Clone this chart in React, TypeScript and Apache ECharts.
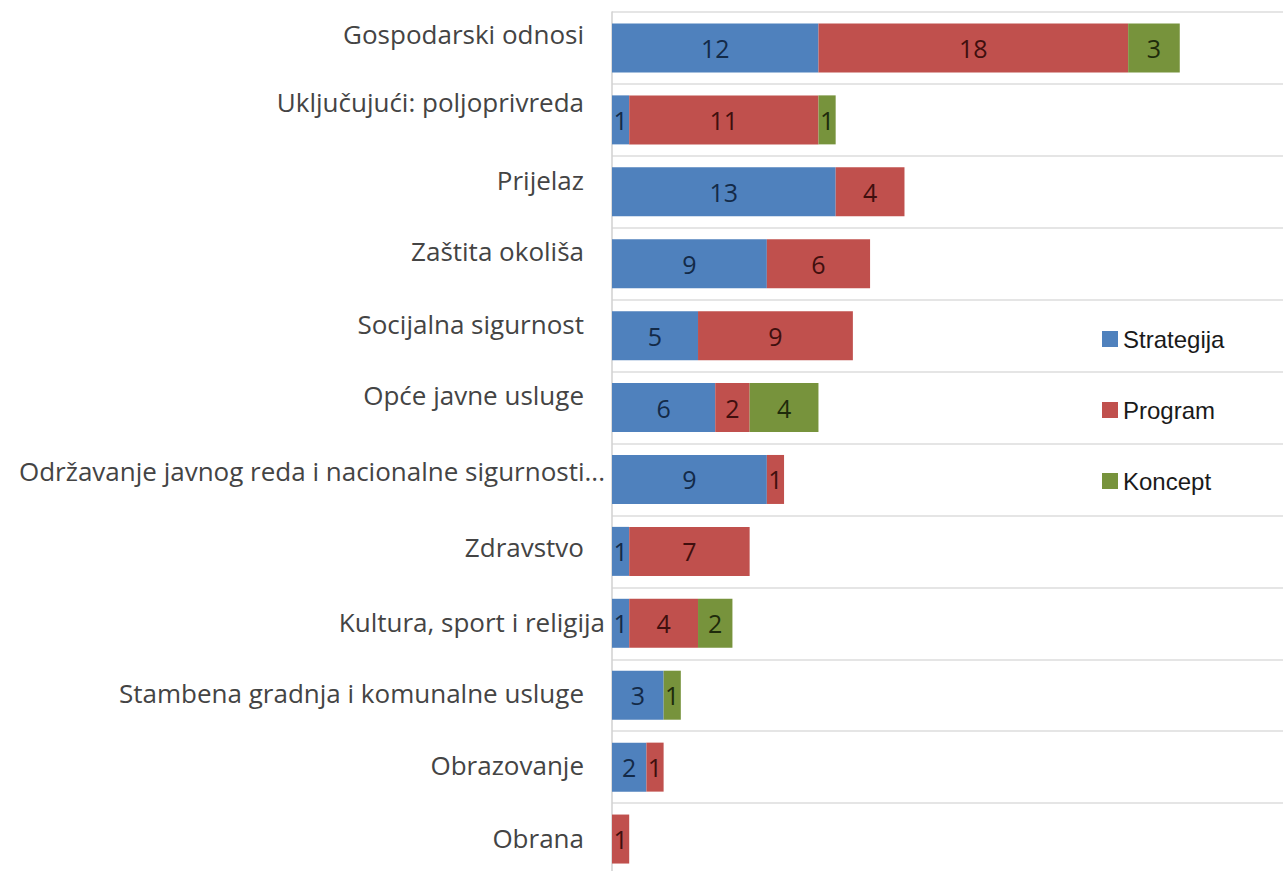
import React, { useEffect, useRef } from "react";
import * as echarts from "echarts";

const categories = [
  "Gospodarski odnosi",
  "Uključujući: poljoprivreda",
  "Prijelaz",
  "Zaštita okoliša",
  "Socijalna sigurnost",
  "Opće javne usluge",
  "Održavanje javnog reda i nacionalne sigurnosti...",
  "Zdravstvo",
  "Kultura, sport i religija",
  "Stambena gradnja i komunalne usluge",
  "Obrazovanje",
  "Obrana",
];

const strategija = [12, 1, 13, 9, 5, 6, 9, 1, 1, 3, 2, 0];
const program = [18, 11, 4, 6, 9, 2, 1, 7, 4, 0, 1, 1];
const koncept = [3, 1, 0, 0, 0, 4, 0, 0, 2, 1, 0, 0];

const seriesNames = ["Strategija", "Program", "Koncept"];

// label layout tweaks (upward shift / right padding) per category
const labelShiftUp = [14, 18, 12, 13, 12, 13, 8, 4, 1, 2, 2, 1];
const labelPadRight = [21, 21, 21, 21, 21, 21, 0, 21, 0, 21, 21, 21];

export default function App() {
  const ref = useRef<HTMLDivElement>(null);
  useEffect(() => {
    if (!ref.current) return;
    const chart = echarts.init(ref.current, undefined, { renderer: "svg" });
    const labelFont = "'Open Sans', sans-serif";
    const rich: Record<string, any> = {};
    categories.forEach((_, i) => {
      rich["l" + i] = {
        fontSize: 26,
        fontFamily: labelFont,
        color: "#444444",
        padding: [0, labelPadRight[i], labelShiftUp[i] * 2, 0],
      };
    });
    const mkSeries = (name: string, data: number[], color: string, labelColor: string) => ({
      name,
      type: "bar",
      stack: "total",
      barWidth: 49,
      data,
      itemStyle: { color },
      label: {
        show: true,
        position: "inside",
        color: labelColor,
        fontSize: 25,
        fontFamily: labelFont,
        formatter: (p: any) => (p.value ? String(p.value) : ""),
      },
    });
    chart.setOption({
      animation: false,
      backgroundColor: "#ffffff",
      grid: {
        left: 612,
        top: 12,
        width: 671,
        height: 863,
        containLabel: false,
        outerBoundsMode: "none",
      },
      legend: {
        orient: "vertical",
        left: 1097,
        top: 322,
        itemWidth: 16,
        itemHeight: 16,
        itemGap: 47,
        icon: "rect",
        data: seriesNames,
        textStyle: {
          fontFamily: "'Liberation Sans', Arial, sans-serif",
          fontSize: 24,
          color: "#1a1a1a",
        },
      },
      xAxis: {
        type: "value",
        min: 0,
        max: 39,
        show: false,
      },
      yAxis: {
        type: "category",
        inverse: true,
        data: categories,
        axisLine: { show: true, lineStyle: { color: "#d0d0d0", width: 1.5 } },
        axisTick: { show: false },
        splitLine: { show: true, lineStyle: { color: "#dcdcdc", width: 1.5 } },
        axisLabel: {
          margin: 7,
          interval: 0,
          formatter: (v: string, i: number) => `{l${i}|${v}}`,
          rich,
        },
      },
      series: [
        mkSeries(seriesNames[0], strategija, "#4f81bd", "#132a48"),
        mkSeries(seriesNames[1], program, "#c0504d", "#3f0f0e"),
        mkSeries(seriesNames[2], koncept, "#77933c", "#1e2b0b"),
      ],
    });
    return () => chart.dispose();
  }, []);
  return (
    <div
      ref={ref}
      style={{ position: "absolute", left: 0, top: 0, width: 1283, height: 871 }}
    />
  );
}
